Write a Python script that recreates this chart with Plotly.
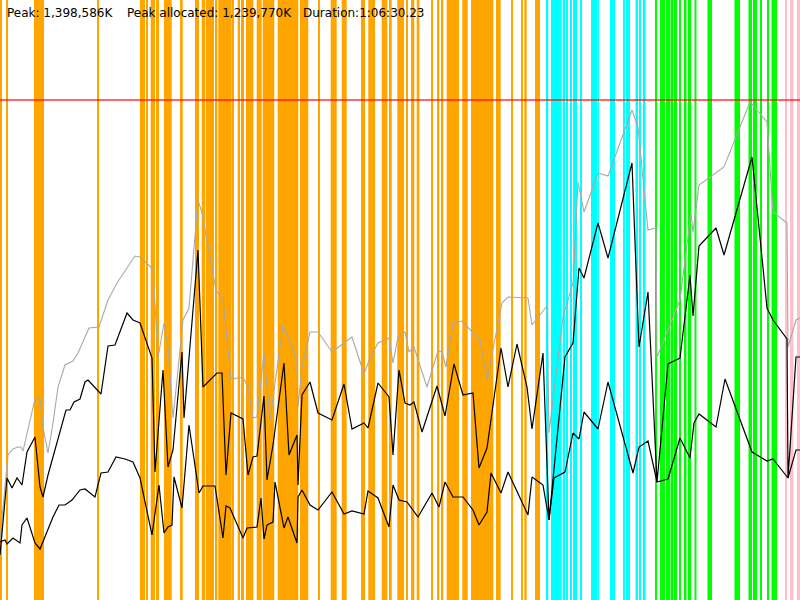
import plotly.graph_objects as go

# memory in chart units (500 units = 1,398,586K), time in ~5 s steps
peak_t = [0, 7, 8, 13, 18, 21, 23, 35, 40, 43, 48, 53, 58, 65, 70, 73, 78, 89, 99, 108,
          117, 127, 135, 140, 147, 153, 158, 164, 168, 173, 177, 183, 189, 198, 202, 216, 223, 231, 243, 248,
          253, 257, 264, 270, 283, 297, 298, 302, 310, 318, 332, 352, 364, 370, 378, 389, 393, 398, 405, 409,
          414, 427, 438, 442, 446, 453, 462, 480, 487, 502, 508, 520, 528, 532, 542, 547, 549, 563, 573, 578,
          584, 598, 608, 632, 638, 648, 656, 657, 680, 691, 693, 699, 724, 750, 767, 773, 787, 788, 796, 800]
peak_mem = [60, 140, 145, 151, 153, 153, 149, 201, 201, 173, 147, 177, 213, 235, 238, 239, 247, 272, 273, 300,
            317, 332, 344, 343, 337, 331, 242, 277, 253, 182, 220, 280, 292, 400, 387, 310, 300, 221, 223, 213,
            182, 183, 247, 180, 275, 240, 193, 233, 268, 268, 248, 263, 226, 242, 257, 262, 237, 263, 268, 248,
            253, 213, 249, 248, 233, 277, 279, 260, 220, 297, 303, 302, 302, 275, 288, 294, 167, 283, 317, 418,
            388, 427, 424, 490, 473, 370, 372, 243, 300, 387, 368, 415, 433, 498, 478, 388, 377, 253, 280, 282]

alloc_t = [0, 7, 12, 17, 22, 27, 35, 40, 43, 48, 53, 60, 66, 70, 74, 80, 85, 88, 101, 108,
           115, 127, 133, 140, 152, 155, 163, 168, 173, 182, 184, 198, 203, 217, 222, 226, 231, 243, 248, 253,
           257, 264, 267, 273, 284, 289, 297, 298, 302, 310, 318, 332, 344, 352, 364, 368, 378, 389, 393, 399,
           405, 410, 414, 422, 437, 445, 454, 463, 473, 479, 487, 501, 508, 517, 527, 532, 543, 549, 565, 573,
           579, 584, 598, 608, 632, 639, 648, 657, 668, 680, 690, 693, 699, 716, 724, 752, 767, 773, 787, 788,
           796, 800]
alloc_mem = [45, 122, 112, 122, 115, 148, 163, 113, 103, 125, 143, 168, 190, 190, 198, 201, 218, 220, 206, 254,
             255, 287, 280, 277, 242, 128, 230, 133, 150, 248, 182, 350, 213, 227, 227, 125, 187, 181, 125, 143,
             144, 204, 120, 155, 237, 145, 165, 115, 205, 218, 187, 180, 216, 171, 177, 172, 217, 203, 145, 230,
             197, 195, 198, 168, 214, 184, 236, 205, 207, 132, 152, 252, 213, 256, 213, 171, 247, 80, 243, 257,
             332, 322, 377, 342, 437, 253, 308, 118, 236, 242, 325, 284, 354, 372, 345, 443, 292, 280, 261, 122,
             243, 243]

live_t = [0, 5, 7, 13, 20, 22, 27, 35, 40, 47, 53, 59, 65, 72, 80, 85, 95, 101, 108, 116,
          125, 133, 140, 152, 159, 164, 168, 172, 174, 182, 189, 199, 203, 215, 223, 226, 230, 243, 247, 257,
          261, 264, 267, 273, 275, 284, 288, 297, 298, 302, 310, 318, 332, 344, 352, 364, 368, 378, 389, 393,
          399, 407, 418, 432, 439, 445, 453, 463, 473, 479, 487, 491, 501, 508, 528, 532, 543, 549, 554, 565,
          573, 579, 584, 598, 608, 633, 639, 648, 657, 668, 680, 690, 694, 699, 716, 725, 752, 767, 773, 788,
          796, 800]
live_mem = [58, 60, 56, 62, 57, 75, 82, 57, 51, 68, 83, 95, 95, 100, 110, 111, 103, 127, 128, 143,
            141, 138, 122, 65, 115, 67, 73, 75, 123, 92, 175, 107, 114, 114, 62, 94, 92, 62, 72, 73,
            102, 61, 75, 78, 118, 72, 83, 57, 103, 110, 95, 90, 108, 86, 89, 86, 109, 102, 73, 115,
            100, 98, 83, 107, 93, 118, 103, 103, 90, 75, 88, 127, 107, 128, 85, 123, 115, 80, 122, 128,
            167, 161, 188, 171, 218, 127, 153, 159, 118, 121, 162, 142, 177, 186, 173, 221, 148, 139, 141, 122,
            150, 150]

peak_level = 500

orange_bands = [(0, 1.7), (6, 7.5), (34, 44), (97, 98.5), (140, 145), (146, 147.3), (150.7, 155), (156, 159),
                (164, 171.7), (180, 182.7), (195, 199), (201.7, 205), (205.7, 214), (215, 217.3), (218.3, 231.7),
                (232.7, 233.5), (237.7, 240), (241, 244), (246, 253.3), (256.7, 261.7), (262.7, 274.3),
                (277.7, 298.3), (300, 308.3), (318.3, 320), (330.7, 336.7), (341.7, 346.7), (361, 365),
                (368.3, 375), (381.7, 387.3), (389, 391.7), (397.3, 404), (406.7, 407.5), (411, 414.3),
                (416.7, 419.3), (431, 432.7), (437.7, 439.3), (441.7, 443.3), (446.7, 459), (462.3, 467.7),
                (471, 493.3), (496, 500.7), (511, 512.7), (521, 522.7), (524.3, 526.7), (535, 540)]
cyan_bands = [(546.7, 548.3), (551, 561.7), (562.7, 565), (566, 568), (570, 571.7), (573.3, 575), (575.5, 577),
              (580, 582), (591, 597.5), (598, 599), (610, 615), (623, 625), (626, 630), (635.5, 638),
              (639, 641), (643, 645.5)]
green_bands = [(655, 656.7), (660, 665), (666, 670), (670.5, 673), (673.5, 677), (679, 680.5), (684, 686.5),
               (688, 691), (694.5, 696.5), (707.5, 712), (734.5, 740), (748.5, 752), (753, 757), (760, 762),
               (767, 769), (771.5, 777)]
pink_bands = [(785, 787), (790, 793.3), (797, 800)]

fig = go.Figure()

for bands, col in [(orange_bands, "#ffa500"), (cyan_bands, "#00ffff"),
                   (green_bands, "#00ff00"), (pink_bands, "#ffc0cb")]:
    fig.add_trace(go.Bar(
        x=[(a + b) / 2 for a, b in bands],
        y=[600] * len(bands),
        width=[b - a for a, b in bands],
        marker=dict(color=col, line=dict(width=0)),
        hoverinfo="skip"))

fig.add_trace(go.Scatter(x=peak_t, y=peak_mem, mode="lines",
                         line=dict(color="#a8a8a8", width=1.1)))
fig.add_trace(go.Scatter(x=alloc_t, y=alloc_mem, mode="lines",
                         line=dict(color="black", width=1.2)))
fig.add_trace(go.Scatter(x=live_t, y=live_mem, mode="lines",
                         line=dict(color="black", width=1.2)))
fig.add_trace(go.Scatter(x=[0, 800], y=[peak_level, peak_level], mode="lines",
                         line=dict(color="rgba(255,0,0,0.6)", width=2)))

labels = [(5, "Peak: 1,398,586K"), (125, "Peak allocated: 1,239,770K"), (301, "Duration:1:06:30.23")]
for px, txt in labels:
    fig.add_annotation(x=px / 800, y=1 - 13 / 600, xref="paper", yref="paper",
                       text=txt, showarrow=False, xanchor="left", yanchor="middle",
                       font=dict(family="DejaVu Sans", size=12, color="black"))

fig.update_layout(
    width=800, height=600,
    margin=dict(l=0, r=0, t=0, b=0),
    paper_bgcolor="white", plot_bgcolor="white",
    barmode="overlay", showlegend=False,
    xaxis=dict(range=[0, 800], visible=False, fixedrange=True),
    yaxis=dict(range=[0, 600], visible=False, fixedrange=True),
)

fig.write_html("out.html", config={"displayModeBar": False},
               post_script="document.body.style.margin='0';document.body.style.overflow='hidden';")
